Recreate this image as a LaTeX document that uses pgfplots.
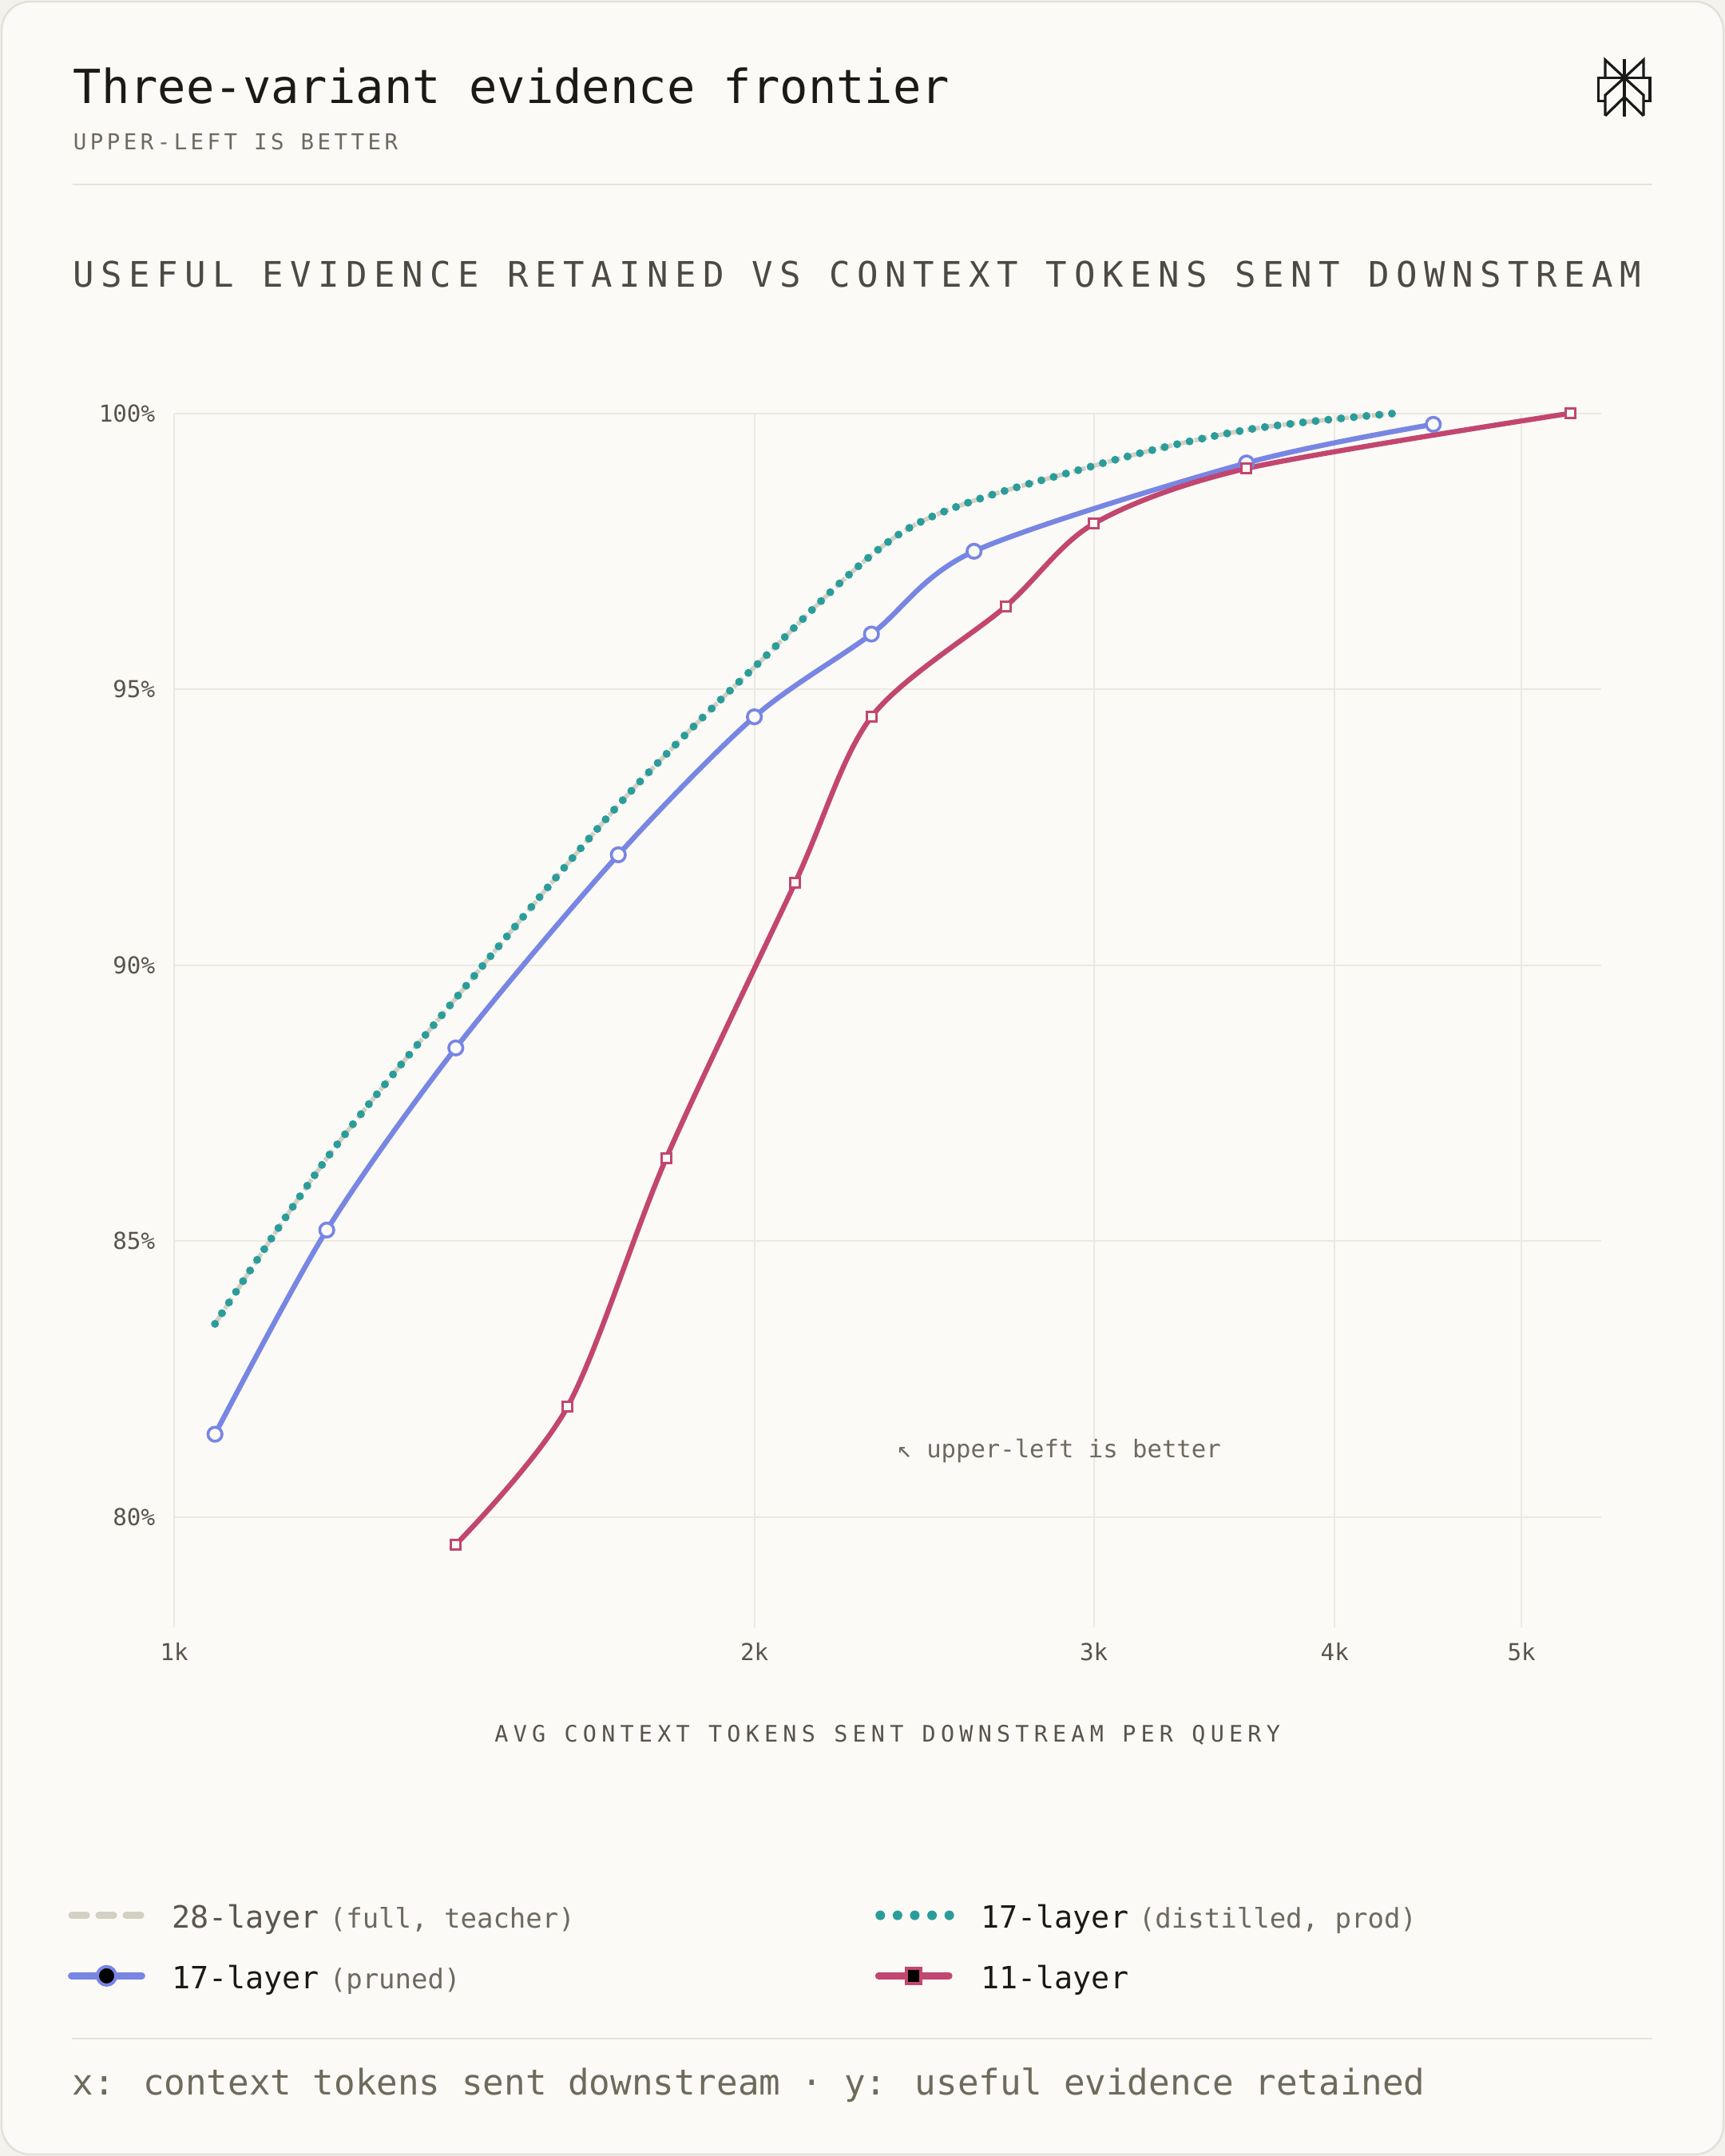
\documentclass[border=0pt]{standalone}
\usepackage{fontspec}
\setmainfont{DejaVu Sans Mono}
\newfontfamily\trackHead[LetterSpace=19.4]{DejaVu Sans Mono}
\newfontfamily\trackSub[LetterSpace=16.3]{DejaVu Sans Mono}
\newfontfamily\trackX[LetterSpace=22]{DejaVu Sans Mono}
\usepackage{pgfplots}
\pgfplotsset{compat=1.18}

\definecolor{pagebg}{HTML}{F4F2EC}
\definecolor{bg}{HTML}{FBFAF6}
\definecolor{cardborder}{HTML}{E3E0D8}
\definecolor{divider}{HTML}{E6E3DB}
\definecolor{gridc}{HTML}{ECE9E1}
\definecolor{titlec}{HTML}{1B1A17}
\definecolor{subc}{HTML}{6E6A60}
\definecolor{headc}{HTML}{4D4A43}
\definecolor{tickc}{HTML}{58544C}
\definecolor{footc}{HTML}{6E6A5C}
\definecolor{dimname}{HTML}{5A564E}
\definecolor{cteal}{HTML}{2A9D9B}
\definecolor{cblue}{HTML}{7886E3}
\definecolor{cred}{HTML}{C2466F}
\definecolor{cgrey}{HTML}{D4D0C4}
\definecolor{logoc}{HTML}{1A1A1A}

\pgfplotstableread{
x y
1050 83.5
1200 86.5
1400 89.4
1700 92.9
2000 95.4
2400 97.9
3000 99.05
3600 99.7
4300 100.0
}\distilled

\pgfplotstableread{
x y
1050 83.5
1200 86.5
1400 89.4
1700 92.9
2000 95.4
2400 97.9
3000 99.05
3600 99.7
4300 100.0
}\teacher

\pgfplotstableread{
x y
1050 81.5
1200 85.2
1400 88.5
1700 92.0
2000 94.5
2300 96.0
2600 97.5
3600 99.1
4500 99.8
}\pruned

\pgfplotstableread{
x y
1400 79.5
1600 82.0
1800 86.5
2100 91.5
2300 94.5
2700 96.5
3000 98.0
3600 99.0
5300 100.0
}\eleven

\newcommand{\legname}{\fontsize{9.6}{11}\selectfont}
\newcommand{\legparen}{\fontsize{8.5}{10}\selectfont\color{subc}}
\newcommand{\legstrut}{\rule[-4.5pt]{0pt}{14pt}}

\begin{document}
\begin{tikzpicture}
\useasboundingbox (0pt,0pt) rectangle (540pt,675pt);
\fill[pagebg] (0pt,0pt) rectangle (540pt,675pt);
\draw[cardborder, fill=bg, line width=0.6pt, rounded corners=9pt] (0.5pt,0.5pt) rectangle (539.5pt,674.5pt);

% header
\node[anchor=base west, inner sep=0pt, text=titlec, font=\fontsize{14.7}{17}\selectfont] at (22.75pt,642.5pt) {Three-variant evidence frontier};
\node[anchor=base west, inner sep=0pt, text=subc, font=\trackSub\fontsize{6.86}{8}\selectfont] at (22.75pt,628pt) {UPPER-LEFT IS BETTER};
\draw[divider, line width=0.5pt] (22.75pt,617.3pt) -- (517.25pt,617.3pt);

% logo
\begin{scope}[logoc, line width=0.8pt, line join=miter, line cap=butt]
\draw (508.5pt,656.5pt) -- (508.5pt,638.5pt);
\draw (502.5pt,650.67pt) -- (502.5pt,656.25pt) -- (508.5pt,650.67pt) -- (514.5pt,656.25pt) -- (514.5pt,650.67pt);
\draw (502.5pt,643.33pt) -- (500.42pt,643.33pt) -- (500.42pt,650.67pt) -- (516.5pt,650.67pt) -- (516.5pt,643.33pt) -- (514.5pt,643.33pt);
\draw (502.5pt,638.75pt) -- (502.5pt,645.2pt) -- (508.5pt,650.67pt) -- (514.5pt,645.2pt) -- (514.5pt,638.75pt);
\draw (502.5pt,638.75pt) -- (508.5pt,644.6pt) -- (514.5pt,638.75pt);
\end{scope}

% chart heading
\node[anchor=base west, inner sep=0pt, text=headc, font=\trackHead\fontsize{11}{13}\selectfont] at (22.75pt,585pt) {USEFUL EVIDENCE RETAINED VS CONTEXT TOKENS SENT DOWNSTREAM};

\begin{axis}[
  at={(54.5pt,165.5pt)}, anchor=south west,
  scale only axis, width=446.75pt, height=380.1pt,
  xmode=log, xmin=1000, xmax=5500, ymin=78, ymax=100,
  xtick={1000,2000,3000,4000,5000}, xticklabels={1k,2k,3k,4k,5k},
  ytick={80,85,90,95,100}, yticklabels={80\%,85\%,90\%,95\%,100\%},
  minor x tick num=0,
  grid=major, major grid style={gridc, line width=0.5pt},
  axis line style={draw=none}, major tick style={draw=none}, minor tick style={draw=none},
  tick label style={font=\fontsize{7.3}{8}\selectfont, text=tickc},
  yticklabel style={anchor=east, inner sep=0pt, xshift=-5.8pt},
  xticklabel style={anchor=north, inner sep=0pt, yshift=-4.75pt},
  /pgf/number format/assume math mode=true,
  clip=false,
  legend columns=2,
  legend cell align=left,
  legend style={
    at={(axis description cs:-0.07443,-0.2227)}, anchor=north west,
    draw=none, fill=none, inner sep=0pt, outer sep=0pt,
    nodes={inner sep=0pt, outer sep=0pt},
    row sep=7.95pt,
    /tikz/every odd column/.append style={column sep=8.3pt},
    /tikz/every even column/.append style={column sep=0pt},
  },
]
\addplot[cgrey, line width=1.4pt, dash pattern=on 4pt off 1.6pt, smooth, forget plot] table[x=x,y=y] {\teacher};
\addplot[cteal, line width=2.5pt, line cap=round, dash pattern=on 0pt off 4pt, smooth, forget plot] table[x=x,y=y] {\distilled};
\addplot[cblue, line width=1.6pt, smooth, mark=*, mark size=2.2pt, mark options={fill=bg, draw=cblue, line width=0.9pt, solid}, forget plot] table[x=x,y=y] {\pruned};
\addplot[cred, line width=1.6pt, smooth, mark=square*, mark size=1.5pt, mark options={fill=bg, draw=cred, line width=0.75pt, solid}, forget plot] table[x=x,y=y] {\eleven};

\node[anchor=west, inner sep=0pt, text=subc, font=\fontsize{7.65}{9}\selectfont] at (axis cs:2370,81.2) {↖ upper-left is better};

\addlegendimage{legend image code/.code={
  \path[draw=none, fill=none] (0pt,-3.5pt) rectangle (24pt,3.5pt);
  \draw[cgrey, line width=2.2pt, line cap=round, dash pattern=on 4.6pt off 3.9pt] (1.1pt,0pt) -- (22.9pt,0pt);}}
\addlegendentry{\makebox[220.2pt][l]{\legstrut{\legname\color{dimname}28-layer}\hspace{3.2pt}{\legparen(full, teacher)}}}
\addlegendimage{legend image code/.code={
  \path[draw=none, fill=none] (0pt,-3.5pt) rectangle (24pt,3.5pt);
  \draw[cteal, line width=3pt, line cap=round, dash pattern=on 0pt off 5.4pt] (1.5pt,0pt) -- (23.2pt,0pt);}}
\addlegendentry{\legstrut{\legname\color{titlec}17-layer}\hspace{3.2pt}{\legparen(distilled, prod)}}
\addlegendimage{legend image code/.code={
  \path[draw=none, fill=none] (0pt,-3.5pt) rectangle (24pt,3.5pt);
  \draw[cblue, line width=2.2pt, line cap=round] (1pt,0pt) -- (23pt,0pt);
  \draw[cblue, line width=1pt, fill=black] (12pt,0pt) circle (2.9pt);}}
\addlegendentry{\makebox[220.2pt][l]{\legstrut{\legname\color{titlec}17-layer}\hspace{3.2pt}{\legparen(pruned)}}}
\addlegendimage{legend image code/.code={
  \path[draw=none, fill=none] (0pt,-3.5pt) rectangle (24pt,3.5pt);
  \draw[cred, line width=2.2pt, line cap=round] (1pt,0pt) -- (23pt,0pt);
  \draw[cred, line width=1pt, fill=black] (9.7pt,-2.3pt) rectangle (14.3pt,2.3pt);}}
\addlegendentry{\legstrut{\legname\color{titlec}11-layer}}
\end{axis}

% x label
\node[anchor=base, inner sep=0pt, text=tickc, font=\trackX\fontsize{7.1}{8}\selectfont] at (277.8pt,129.6pt) {AVG CONTEXT TOKENS SENT DOWNSTREAM PER QUERY};

% footer
\draw[divider, line width=0.5pt] (22.4pt,36.75pt) -- (517.25pt,36.75pt);
\node[anchor=base west, inner sep=0pt, text=footc, font=\fontsize{11.05}{13}\selectfont] at (22.4pt,19.25pt) {x: context tokens sent downstream · y: useful evidence retained};
\end{tikzpicture}
\end{document}
